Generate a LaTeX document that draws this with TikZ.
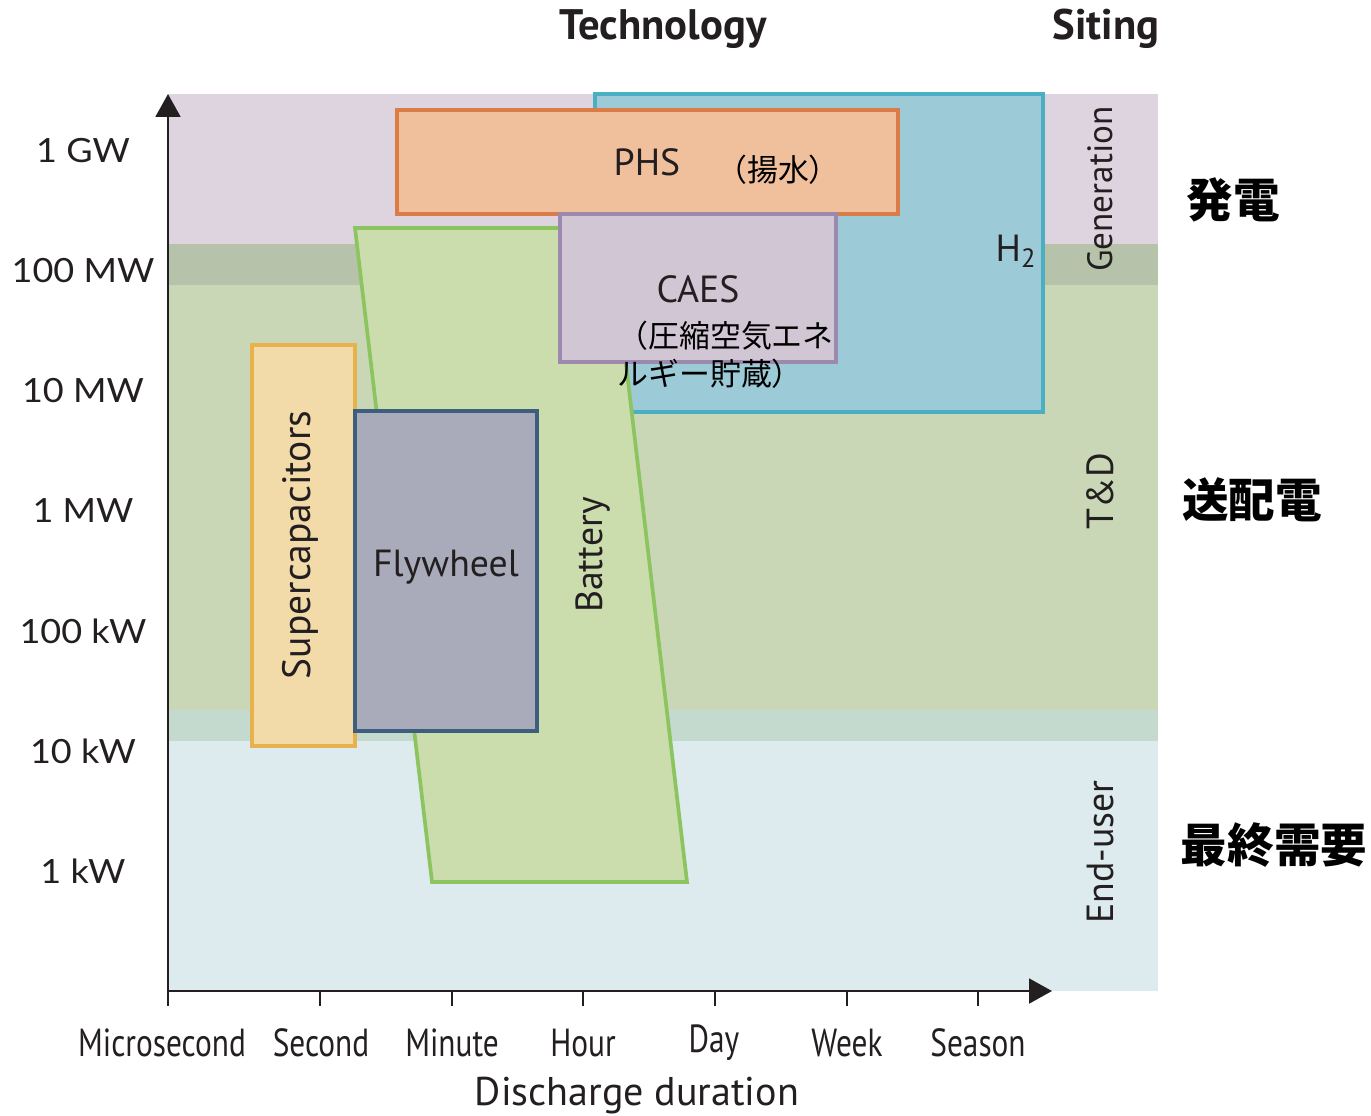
\documentclass[tikz,border=0pt]{standalone}
\usepackage{fontspec}
\setmainfont{PT Sans}
\newfontfamily\condfont{PT Sans}[FakeStretch=0.8]
\newfontfamily\axisfont{Lato}[FakeStretch=1.08]
\newfontfamily\cjk{Noto Sans CJK JP}
\usetikzlibrary{arrows.meta}

% colour scheme
\definecolor{ink}{HTML}{231F20}
\definecolor{genband}{HTML}{DED4E0}
\definecolor{genover}{HTML}{B6C3AA}
\definecolor{tdband}{HTML}{C9D7B6}
\definecolor{euover}{HTML}{C5DACE}
\definecolor{euband}{HTML}{DDEAEE}
\definecolor{hfill}{HTML}{9CCAD7}
\definecolor{hline}{HTML}{4AAFC3}
\definecolor{phsfill}{HTML}{F0BF9C}
\definecolor{phsline}{HTML}{DB7B48}
\definecolor{caesfill}{HTML}{D0C6D4}
\definecolor{caesline}{HTML}{9E89AE}
\definecolor{batfill}{HTML}{CCDDAD}
\definecolor{batline}{HTML}{8CC460}
\definecolor{supfill}{HTML}{F2DBA9}
\definecolor{supline}{HTML}{E7B24E}
\definecolor{flyfill}{HTML}{A9ABBB}
\definecolor{flyline}{HTML}{3E5E7E}

\tikzset{
  techbox/.style={line width=2.1pt, line join=miter},
  axisline/.style={draw=ink, line width=1.6pt},
  tickline/.style={draw=ink, line width=1.1pt},
  axisarrow/.style={-{Triangle[length=13pt,width=14pt]}},
  powerlbl/.style={text=ink, font=\axisfont\fontsize{19}{19}\selectfont, inner sep=0pt},
  timelbl/.style={text=ink, font=\condfont\fontsize{22.3}{22.3}\selectfont, inner sep=0pt},
  techlbl/.style={text=ink, font=\fontsize{21.5}{21.5}\selectfont, inner sep=0pt},
  sitelbl/.style={text=ink, font=\fontsize{21.5}{21.5}\selectfont, inner sep=0pt, rotate=90},
  headlbl/.style={text=ink, font=\bfseries\fontsize{24.3}{24.3}\selectfont, inner sep=0pt},
  jalbl/.style={text=black, font=\cjk\fontsize{17.6}{21.5}\selectfont, inner sep=0pt},
  jahead/.style={text=black, font=\cjk\bfseries\fontsize{26.5}{26.5}\selectfont, inner sep=0pt},
}

\begin{document}
\begin{tikzpicture}[x=0.02cm, y=-0.02cm]
\useasboundingbox (0,0) rectangle (1371,1115);

% siting bands
\fill[genband] (168,94) rectangle (1158,244);
\fill[genover] (168,244) rectangle (1158,285);
\fill[tdband] (168,285) rectangle (1158,710);
\fill[euover] (168,710) rectangle (1158,741);
\fill[euband] (168,741) rectangle (1158,991);

% storage technologies
\draw[techbox, draw=hline, fill=hfill] (595,94) rectangle (1043,412);
\draw[techbox, draw=batline, fill=batfill] (355,228) -- (610,228) -- (687,882) -- (432,882) -- cycle;
\draw[techbox, draw=phsline, fill=phsfill] (397,110) rectangle (898,214);
\draw[techbox, draw=caesline, fill=caesfill] (560,214) rectangle (836,362);
\draw[techbox, draw=supline, fill=supfill] (252,345) rectangle (355,746);
\draw[techbox, line width=2.6pt, draw=flyline, fill=flyfill] (355,411) rectangle (537,731);

% technology labels
\node[techlbl] (phs) at (647,162) {PHS};
\node[jalbl] (phsja) at (778,170) {（揚水）};
\node[techlbl] (caes) at (698,289) {CAES};
\node[jalbl, anchor=west, align=left] (caesja) at (617,355) {（圧縮空気エネ\\ルギー貯蔵）};
\node[techlbl] (h2) at (1016,251) {H\textsubscript{2}};
\node[techlbl, font=\fontsize{22.5}{22.5}\selectfont, rotate=90] (sup) at (300,545) {Supercapacitors};
\node[techlbl] (fly) at (446,567) {Flywheel};
\node[techlbl, rotate=90] (bat) at (593,555) {Battery};

% siting labels
\node[sitelbl, font=\fontsize{20}{20}\selectfont] (gen) at (1100,189) {Generation};
\node[sitelbl] (td) at (1100,491) {T\&D};
\node[sitelbl] (eu) at (1100,852) {End-user};
\node[jahead] (genja) at (1233,200) {発電};
\node[jahead] (tdja) at (1252,500) {送配電};
\node[jahead] (euja) at (1274,845) {最終需要};

% column headings
\node[headlbl] (tech) at (663,29) {Technology};
\node[headlbl] (site) at (1106,29) {Siting};

% axes
\coordinate (origin) at (168,991);
\coordinate (ytip) at (168,94);
\coordinate (xtip) at (1052,991);
\draw[axisline, axisarrow] (origin) -- (ytip);
\draw[axisline, axisarrow] (origin) -- (xtip);

% power rating scale
\node[powerlbl] (p1) at (83,151) {1 GW};
\node[powerlbl] (p2) at (83,271) {100 MW};
\node[powerlbl] (p3) at (83,391) {10 MW};
\node[powerlbl] (p4) at (83,511) {1 MW};
\node[powerlbl] (p5) at (83,631) {100 kW};
\node[powerlbl] (p6) at (83,751) {10 kW};
\node[powerlbl] (p7) at (83,871) {1 kW};

% discharge duration scale
\foreach \tx/\tname in {168/t1, 320/t2, 452/t3, 583/t4, 715/t5, 847/t6, 978/t7}{
  \coordinate (\tname-top) at (\tx,991);
  \coordinate (\tname-bot) at (\tx,1006);
  \draw[tickline] (\tname-top) -- (\tname-bot);
}
\node[timelbl] (l1) at (162,1043) {Microsecond};
\node[timelbl] (l2) at (321,1043) {Second};
\node[timelbl] (l3) at (452,1043) {Minute};
\node[timelbl] (l4) at (583,1043) {Hour};
\node[timelbl] (l5) at (714,1043) {Day};
\node[timelbl] (l6) at (847,1043) {Week};
\node[timelbl] (l7) at (978,1043) {Season};
\node[techlbl, font=\fontsize{22.8}{22.8}\selectfont] (xlab) at (637,1096) {Discharge duration};
\end{tikzpicture}
\end{document}
